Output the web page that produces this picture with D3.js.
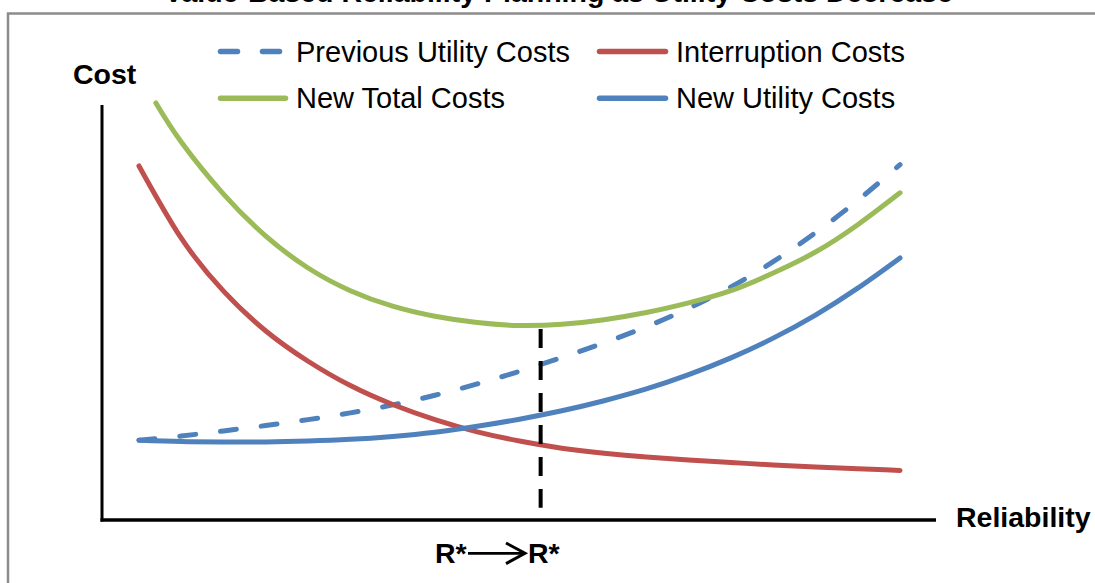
<!DOCTYPE html>
<html>
<head>
<meta charset="utf-8">
<script src="https://cdn.jsdelivr.net/npm/d3@7"></script>
<style>
  html, body { margin: 0; padding: 0; background: #fff; }
  svg { display: block; }
  text { font-family: "Liberation Sans", Arial, sans-serif; }
</style>
</head>
<body>
<svg id="chart" width="1095" height="583"></svg>
<script>
// ---- data (conceptual units 0..100) ----
const titleText = "Value-Based Reliability Planning as Utility Costs Decrease";
const xAxisLabel = "Reliability";
const yAxisLabel = "Cost";
const rStarLabel = "R*";

const reliability = [5, 10, 15, 20, 25, 30, 35, 40, 45, 50, 55, 60, 65, 70, 75, 80, 85, 90, 95];
const previousUtilityCosts = [19.0, 20.0, 21.2, 22.5, 23.9, 25.5, 27.4, 29.7, 32.4, 35.4, 38.7, 42.2, 46.0, 50.4, 55.5, 61.5, 68.4, 76.1, 84.6];
const interruptionCosts    = [84.3, 67.1, 54.5, 45.0, 37.8, 32.0, 27.5, 23.9, 21.0, 18.8, 17.1, 15.9, 15.0, 14.3, 13.7, 13.1, 12.6, 12.2, 11.8];
const newUtilityCosts      = [19.0, 18.7, 18.6, 18.6, 18.8, 19.2, 19.9, 20.9, 22.3, 24.0, 26.0, 28.4, 31.2, 34.6, 38.6, 43.3, 48.8, 55.2, 62.4];
const totalReliability     = [7, 10, 15, 20, 25, 30, 35, 40, 45, 50, 55, 60, 65, 70, 75, 80, 85, 90, 95];
const newTotalCosts        = [99.3, 90.0, 77.6, 67.6, 60.0, 54.6, 50.9, 48.5, 47.0, 46.3, 46.6, 47.7, 49.4, 51.7, 54.6, 58.8, 63.8, 70.3, 77.9];

const optimumReliability = 52.5;   // R*
const optimumCost = 46.2;
const optimumLineBottom = 2.9;

const seriesNames = ["Previous Utility Costs", "Interruption Costs", "New Total Costs", "New Utility Costs"];
const seriesColors = ["#4F81BD", "#C0504D", "#9BBB59", "#4F81BD"];
const seriesDashed = [true, false, false, false];

// ---- drawing ----
const svg = d3.select("#chart");
const x = d3.scaleLinear().domain([0, 100]).range([96.7, 942.3]);
const y = d3.scaleLinear().domain([0, 100]).range([520, 100]);

// outer frame (chart area border, extends beyond the picture)
svg.append("rect")
  .attr("x", 8).attr("y", 13.5).attr("width", 1200).attr("height", 700)
  .attr("fill", "none").attr("stroke", "#8c8c8c").attr("stroke-width", 2.5);

// title (cut off at top in the reference)
svg.append("text")
  .attr("x", 164).attr("y", 2)
  .attr("font-size", 28.5).attr("font-weight", "bold").attr("fill", "#000")
  .text(titleText);

const line = d3.line().curve(d3.curveNatural).x(d => x(d[0])).y(d => y(d[1]));

const seriesData = [
  reliability.map((r, i) => [r, previousUtilityCosts[i]]),
  reliability.map((r, i) => [r, interruptionCosts[i]]),
  totalReliability.map((r, i) => [r, newTotalCosts[i]]),
  reliability.map((r, i) => [r, newUtilityCosts[i]])
];

seriesData.forEach((data, i) => {
  svg.append("path")
    .datum(data)
    .attr("d", line)
    .attr("fill", "none")
    .attr("stroke", seriesColors[i])
    .attr("stroke-width", 5)
    .attr("stroke-linecap", "round")
    .attr("stroke-dasharray", seriesDashed[i] ? "16,25" : null);
});

// axes (plain lines, no ticks)
svg.append("line").attr("x1", 102).attr("x2", 102).attr("y1", 105).attr("y2", 521.5)
  .attr("stroke", "#000").attr("stroke-width", 3);
svg.append("line").attr("x1", 100.5).attr("x2", 936).attr("y1", 520).attr("y2", 520)
  .attr("stroke", "#000").attr("stroke-width", 3.5);

svg.append("text").attr("x", 73).attr("y", 84)
  .attr("font-size", 28.5).attr("font-weight", "bold").text(yAxisLabel);
svg.append("text").attr("x", 956).attr("y", 527)
  .attr("font-size", 28.5).attr("font-weight", "bold").text(xAxisLabel);

// R* vertical dashed line
svg.append("line")
  .attr("x1", x(optimumReliability)).attr("x2", x(optimumReliability))
  .attr("y1", y(optimumCost) + 3).attr("y2", y(optimumLineBottom))
  .attr("stroke", "#000").attr("stroke-width", 4)
  .attr("stroke-dasharray", "19,13");

// R* --> R*
svg.append("text").attr("x", 435).attr("y", 563)
  .attr("font-size", 28.5).attr("font-weight", "bold").text(rStarLabel);
svg.append("text").attr("x", 528).attr("y", 563)
  .attr("font-size", 28.5).attr("font-weight", "bold").text(rStarLabel);
svg.append("line").attr("x1", 468).attr("x2", 524).attr("y1", 553.3).attr("y2", 553.3)
  .attr("stroke", "#000").attr("stroke-width", 2.8);
svg.append("path").attr("d", "M506,543 L525,553.3 L506,563.6")
  .attr("fill", "none").attr("stroke", "#000").attr("stroke-width", 3)
  .attr("stroke-linejoin", "miter");

// legend
const legendItems = [
  { i: 0, x1: 218, x2: 282, ly: 51.5, tx: 296, ty: 61.5 },
  { i: 1, x1: 597, x2: 668, ly: 51.5, tx: 676, ty: 61.5 },
  { i: 2, x1: 218, x2: 288, ly: 98.3, tx: 296, ty: 108.3 },
  { i: 3, x1: 597, x2: 668, ly: 98.3, tx: 676, ty: 108.3 }
];
legendItems.forEach(d => {
  svg.append("line")
    .attr("x1", d.x1 + 2.5).attr("x2", d.x2 - 2.5).attr("y1", d.ly).attr("y2", d.ly)
    .attr("stroke", seriesColors[d.i]).attr("stroke-width", 5.5)
    .attr("stroke-linecap", "round")
    .attr("stroke-dasharray", seriesDashed[d.i] ? "17,25" : null);
  svg.append("text").attr("x", d.tx).attr("y", d.ty)
    .attr("font-size", 29).attr("fill", "#000").text(seriesNames[d.i]);
});
</script>
</body>
</html>
